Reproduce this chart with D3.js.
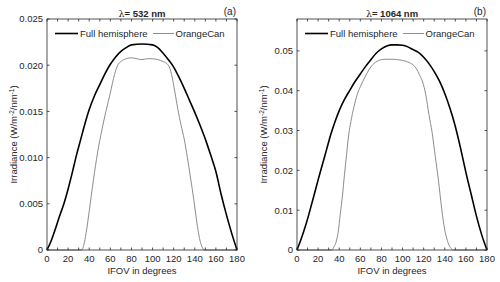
<!DOCTYPE html>
<meta charset="utf-8">
<style>
  body { margin: 0; background: #fff; }
  text { font-family: "Liberation Sans", Arial, sans-serif; fill: #262626; }
  .frame { fill: none; stroke: #262626; stroke-width: 0.8px; }
  .tick { stroke: #262626; stroke-width: 0.8px; }
  .full { fill: none; stroke: #000; stroke-width: 1.6px; }
  .orange { fill: none; stroke: #8c8c8c; stroke-width: 1px; }
</style>
<body>
<script src="https://d3js.org/d3.v7.min.js"></script>
<script>
  // ---- data ----
  var xTickLabels = [0, 20, 40, 60, 80, 100, 120, 140, 160, 180];
  var xMinorTicks = [0, 10, 20, 30, 40, 50, 60, 70, 80, 90, 100, 110, 120, 130, 140, 150, 160, 170, 180];

  // panel (a) 532 nm
  var titleA = "532";
  var yTicksA = [0, 0.005, 0.010, 0.015, 0.020, 0.025];
  var yLabelsA = ["0", "0.005", "0.010", "0.015", "0.020", "0.025"];
  var fullDegA = [0, 4, 8, 12, 16, 20, 24, 28, 32, 36, 40, 45, 50, 55, 60, 65, 70, 75, 80, 90, 100, 105, 110, 115, 120, 125, 130, 135, 140, 145, 150, 155, 160, 165, 170, 175, 180];
  var fullValA = [0, 0.0010, 0.0023, 0.0037, 0.0050, 0.0066, 0.0084, 0.0103, 0.0120, 0.0137, 0.0152, 0.0167, 0.0179, 0.0191, 0.0201, 0.0209, 0.0215, 0.0219, 0.0222, 0.0223, 0.0222, 0.0219, 0.0213, 0.0206, 0.0198, 0.0187, 0.0175, 0.0162, 0.0149, 0.0135, 0.0120, 0.0103, 0.0085, 0.0060, 0.0038, 0.0018, 0];
  var canDegA = [0, 33, 35, 37, 40, 44, 48, 52, 56, 60, 64, 67, 70, 75, 80, 85, 90, 95, 100, 105, 110, 115, 118, 121, 124, 127, 130, 133, 136, 139, 141, 143, 145, 147, 149, 180];
  var canValA = [0, 0, 0.0006, 0.0018, 0.0042, 0.0076, 0.0106, 0.0130, 0.0151, 0.0170, 0.0190, 0.0200, 0.0204, 0.0207, 0.0208, 0.0207, 0.0206, 0.0207, 0.0207, 0.0206, 0.0204, 0.0200, 0.0190, 0.0172, 0.0152, 0.0135, 0.0120, 0.0100, 0.0078, 0.0055, 0.0038, 0.0022, 0.0010, 0.0003, 0, 0];

  // panel (b) 1064 nm
  var titleB = "1064";
  var yTicksB = [0, 0.01, 0.02, 0.03, 0.04, 0.05];
  var yLabelsB = ["0", "0.01", "0.02", "0.03", "0.04", "0.05"];
  var fullDegB = [0, 4, 8, 12, 16, 20, 24, 28, 32, 36, 40, 45, 50, 55, 60, 65, 70, 75, 80, 85, 90, 95, 100, 105, 110, 115, 120, 125, 130, 135, 140, 145, 150, 155, 160, 165, 170, 175, 180];
  var fullValB = [0, 0.0028, 0.0060, 0.0097, 0.0136, 0.0176, 0.0214, 0.0252, 0.0290, 0.0322, 0.0350, 0.0378, 0.0401, 0.0423, 0.0442, 0.0461, 0.0478, 0.0494, 0.0505, 0.0512, 0.0515, 0.0515, 0.0514, 0.0510, 0.0503, 0.0496, 0.0484, 0.0468, 0.0448, 0.0424, 0.0393, 0.0355, 0.0310, 0.0255, 0.0195, 0.0140, 0.0085, 0.0038, 0];
  var canDegB = [0, 33, 35, 37, 39, 41, 43, 45, 47, 49, 51, 54, 57, 60, 64, 68, 72, 76, 80, 85, 90, 95, 100, 105, 110, 113, 116, 119, 122, 125, 128, 131, 134, 137, 140, 142, 144, 146, 148, 180];
  var canValB = [0, 0, 0.0008, 0.0020, 0.0045, 0.0090, 0.0135, 0.0190, 0.0240, 0.0290, 0.0322, 0.0360, 0.0390, 0.0410, 0.0432, 0.0452, 0.0466, 0.0474, 0.0478, 0.0479, 0.0479, 0.0478, 0.0476, 0.0472, 0.0465, 0.0456, 0.0440, 0.0422, 0.0390, 0.0340, 0.0295, 0.0235, 0.0175, 0.0105, 0.0050, 0.0028, 0.0012, 0.0004, 0, 0];

  var legendNames = ["Full hemisphere", "OrangeCan"];

  var panels = [
    { left: 47, title: titleA, tag: "(a)", yMax: 0.025, yTicks: yTicksA, yLabels: yLabelsA,
      full: fullDegA.map(function (d, i) { return [d, fullValA[i]]; }),
      can: canDegA.map(function (d, i) { return [d, canValA[i]]; }) },
    { left: 297, title: titleB, tag: "(b)", yMax: 0.058, yTicks: yTicksB, yLabels: yLabelsB,
      full: fullDegB.map(function (d, i) { return [d, fullValB[i]]; }),
      can: canDegB.map(function (d, i) { return [d, canValB[i]]; }) }
  ];

  var W = 500, H = 282, plotW = 190, plotTop = 19, plotBottom = 250;

  var svg = d3.select("body").append("svg")
    .attr("width", W).attr("height", H);
  svg.append("rect").attr("width", W).attr("height", H).attr("fill", "#fff");

  panels.forEach(function (p) {
    var x = d3.scaleLinear().domain([0, 180]).range([p.left, p.left + plotW]);
    var y = d3.scaleLinear().domain([0, p.yMax]).range([plotBottom, plotTop]);
    var g = svg.append("g");

    // curves
    var line = d3.line()
      .x(function (d) { return x(d[0]); })
      .y(function (d) { return y(d[1]); })
      .curve(d3.curveMonotoneX);
    g.append("path").attr("class", "orange").attr("d", line(p.can));
    g.append("path").attr("class", "full").attr("d", line(p.full));

    // box
    g.append("rect").attr("class", "frame")
      .attr("x", x(0)).attr("y", plotTop)
      .attr("width", plotW).attr("height", plotBottom - plotTop);

    // x ticks (inward, bottom and top)
    xMinorTicks.forEach(function (t) {
      g.append("line").attr("class", "tick")
        .attr("x1", x(t)).attr("x2", x(t)).attr("y1", plotBottom).attr("y2", plotBottom - 2.5);
      g.append("line").attr("class", "tick")
        .attr("x1", x(t)).attr("x2", x(t)).attr("y1", plotTop).attr("y2", plotTop + 2.5);
    });
    xTickLabels.forEach(function (t) {
      g.append("text").attr("x", x(t)).attr("y", 261.5)
        .attr("text-anchor", "middle").style("font-size", "9.5px").text(t);
    });

    // y ticks (inward, left and right)
    p.yTicks.forEach(function (t, i) {
      g.append("line").attr("class", "tick")
        .attr("x1", x(0)).attr("x2", x(0) + 2.5).attr("y1", y(t)).attr("y2", y(t));
      g.append("line").attr("class", "tick")
        .attr("x1", x(180)).attr("x2", x(180) - 2.5).attr("y1", y(t)).attr("y2", y(t));
      g.append("text").attr("x", x(0) - 4).attr("y", y(t) + 3.4)
        .attr("text-anchor", "end").style("font-size", "9.5px").text(p.yLabels[i]);
    });

    // axis titles
    g.append("text").attr("x", x(90)).attr("y", 273.5)
      .attr("text-anchor", "middle").style("font-size", "9.5px").text("IFOV in degrees");

    var yl = g.append("text")
      .attr("transform", "translate(" + (p.left - 30) + "," + ((plotTop + plotBottom) / 2) + ") rotate(-90)")
      .attr("text-anchor", "middle").style("font-size", "9.5px");
    yl.append("tspan").text("Irradiance (W/m");
    yl.append("tspan").attr("dy", -3.5).style("font-size", "6.5px").text("-2");
    yl.append("tspan").attr("dy", 3.5).text("/nm");
    yl.append("tspan").attr("dy", -3.5).style("font-size", "6.5px").text("-1");
    yl.append("tspan").attr("dy", 3.5).text(")");

    // title and panel tag
    var tt = g.append("text").attr("x", x(90)).attr("y", 16.5)
      .attr("text-anchor", "middle").style("font-size", "9.5px").style("font-weight", "bold");
    tt.append("tspan").style("font-family", "'DejaVu Serif', serif").style("font-weight", "normal").text("\u03bb");
    tt.append("tspan").text("= " + p.title + " nm");

    g.append("text").attr("x", x(180) - 1).attr("y", 15)
      .attr("text-anchor", "end").style("font-size", "10px").text(p.tag);

    // legend
    var ly = 33.5;
    g.append("line").attr("class", "full")
      .attr("x1", x(0) + 8).attr("x2", x(0) + 31).attr("y1", ly).attr("y2", ly);
    g.append("text").attr("x", x(0) + 33).attr("y", ly + 3.3)
      .style("font-size", "9.5px").text(legendNames[0]);
    g.append("line").attr("class", "orange")
      .attr("x1", x(0) + 106).attr("x2", x(0) + 127).attr("y1", ly).attr("y2", ly);
    g.append("text").attr("x", x(0) + 128.5).attr("y", ly + 3.3)
      .style("font-size", "9.5px").text(legendNames[1]);
  });
</script>
</body>
